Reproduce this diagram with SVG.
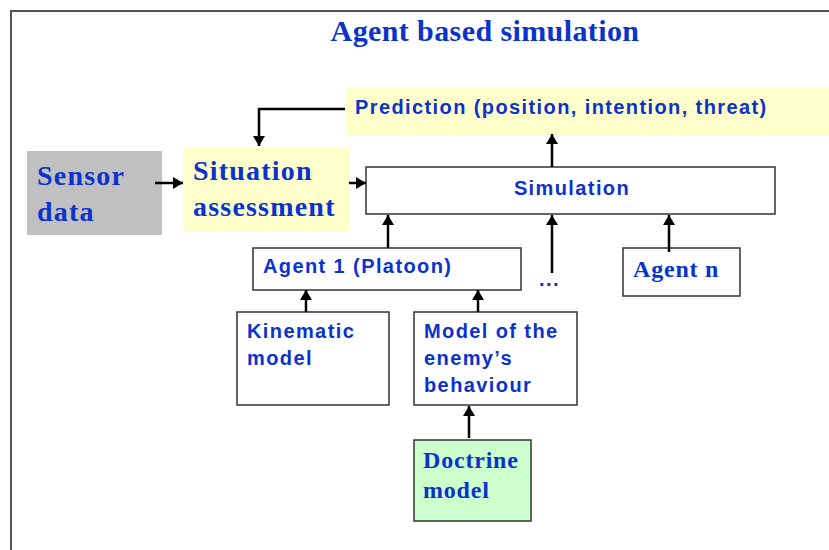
<svg xmlns="http://www.w3.org/2000/svg" width="829" height="550" viewBox="0 0 829 550">
<style>
.box{stroke:#333;stroke-width:1.5}
.w{fill:#fff}.y{fill:#ffffcc;stroke:none}.g{fill:#c0c0c0;stroke:none}.gr{fill:#ccffcc}
.sans{font-family:"Liberation Sans",Arial,sans-serif;font-weight:bold;font-size:20px;letter-spacing:1.4px;fill:#0a33cc}
.serif{font-family:"Liberation Serif","Times New Roman",serif;font-weight:bold;fill:#0a33cc}
.big{font-size:28px;letter-spacing:1.2px}
.mid{font-size:24px;letter-spacing:0.8px}
.c line,.c path{stroke:#000;stroke-width:2.5;fill:none}
</style>
<defs>
<marker id="ah" markerUnits="userSpaceOnUse" markerWidth="12" markerHeight="12" refX="10" refY="6" orient="auto">
<path d="M0,0 L10,6 L0,12 z" fill="#000"/>
</marker>
</defs>
<rect width="829" height="550" fill="#fff"/>
<path d="M11,552 V11 H831" fill="none" stroke="#555" stroke-width="2"/>
<text x="485" y="41" text-anchor="middle" class="serif" font-size="30" letter-spacing="0.4">Agent based simulation</text>

<g id="prediction"><rect x="345" y="87" width="490" height="48" class="y"/><text x="355" y="114" class="sans">Prediction (position, intention, threat)</text></g>
<g id="sensor"><rect x="27" y="151" width="135" height="84" class="g"/><text class="serif big"><tspan x="37" y="185">Sensor</tspan><tspan x="37" y="221">data</tspan></text></g>
<g id="situation"><rect x="183" y="148" width="166" height="83" class="y"/><text class="serif big"><tspan x="193" y="180">Situation</tspan><tspan x="193" y="216">assessment</tspan></text></g>
<g id="simulation"><rect x="366" y="167" width="409" height="47" class="box w"/><text x="572" y="195" text-anchor="middle" class="sans">Simulation</text></g>
<g id="agent1"><rect x="253" y="248" width="268" height="42" class="box w"/><text x="263" y="273" class="sans">Agent 1 (Platoon)</text></g>
<g id="dots"><text x="539" y="286" class="sans" font-size="22" letter-spacing="5">...</text></g>
<g id="agentn"><rect x="623" y="248" width="117" height="48" class="box w"/><text x="633" y="277" class="serif mid">Agent n</text></g>
<g id="kinematic"><rect x="237" y="312" width="152" height="93" class="box w"/><text class="sans"><tspan x="247" y="338">Kinematic</tspan><tspan x="247" y="365">model</tspan></text></g>
<g id="enemy"><rect x="414" y="312" width="163" height="93" class="box w"/><text class="sans"><tspan x="424" y="338">Model of  the</tspan><tspan x="424" y="365">enemy’s</tspan><tspan x="424" y="392">behaviour</tspan></text></g>
<g id="doctrine"><rect x="414" y="440" width="117" height="81" class="box gr"/><text class="serif mid"><tspan x="423" y="468">Doctrine</tspan><tspan x="423" y="498">model</tspan></text></g>

<g class="c">
<path d="M345,109 H259 V146" stroke-width="2" marker-end="url(#ah)"/>
<line x1="155" y1="183" x2="183" y2="183" marker-end="url(#ah)"/>
<line x1="349" y1="183" x2="366" y2="183" marker-end="url(#ah)"/>
<line x1="552" y1="167" x2="552" y2="134" marker-end="url(#ah)"/>
<line x1="388" y1="248" x2="388" y2="215" marker-end="url(#ah)"/>
<line x1="552" y1="273" x2="552" y2="215" marker-end="url(#ah)"/>
<line x1="669" y1="252" x2="669" y2="215" marker-end="url(#ah)"/>
<line x1="306" y1="312" x2="306" y2="290" marker-end="url(#ah)"/>
<line x1="478" y1="312" x2="478" y2="290" marker-end="url(#ah)"/>
<line x1="469" y1="438" x2="469" y2="406" marker-end="url(#ah)"/>
</g>
</svg>
